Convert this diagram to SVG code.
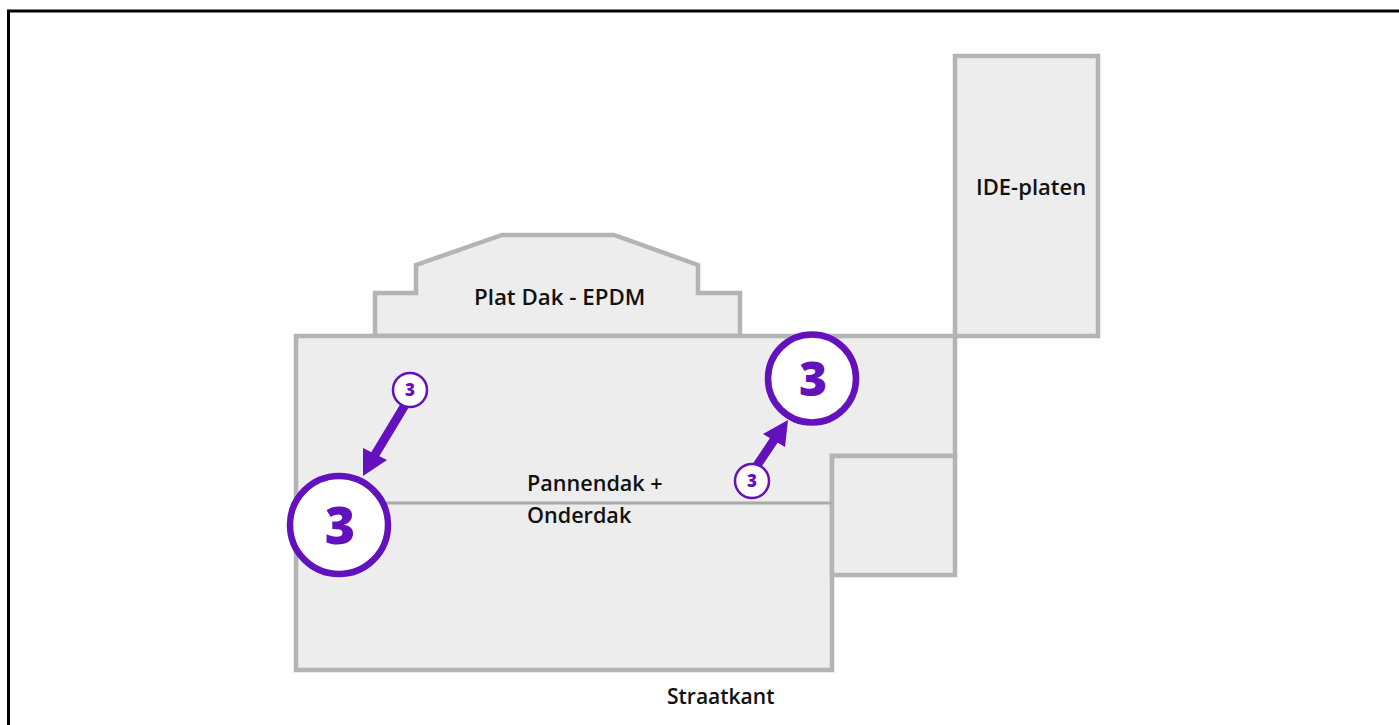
<svg xmlns="http://www.w3.org/2000/svg" width="1399" height="725" viewBox="0 0 1399 725">
<style>
.r{fill:#ededed;stroke:#b4b4b4;stroke-width:4.500;stroke-linejoin:miter}
.t{font-family:"Open Sans","Noto Sans",sans-serif;font-size:22px;font-weight:600;fill:#111}
.b{fill:#fff;stroke:#6310bd}
.n{font-family:"Open Sans","Noto Sans",sans-serif;font-weight:800;fill:#6310bd;text-anchor:middle}
.c{stroke:#6310bd;stroke-width:9;fill:none}
.h{fill:#6310bd}
</style>
<rect width="1399" height="725" fill="#fff"/>
<path d="M8.500 725V11H1399" fill="none" stroke="#000" stroke-width="3"/>
<g id="plat-dak"><path class="r" d="M375 336V293H416V265L502 235H614L698 265V293H740V336Z"/><text class="t" x="474" y="305" font-size="22.300" style="font-size:22.300px">Plat Dak - EPDM</text></g>
<g id="ide-platen"><rect class="r" x="955" y="56" width="143" height="280"/><text class="t" x="976" y="195">IDE-platen</text></g>
<g id="hoofddak"><path class="r" d="M296 336H955V456H832V670H296Z"/></g>
<g id="aanbouw"><rect class="r" x="832" y="456" width="123" height="119"/></g>
<path d="M296 503H832" stroke="#aaa" stroke-width="3" fill="none"/>
<g id="pannendak"><text class="t" x="527" y="491" style="font-size:21.600px">Pannendak +</text><text class="t" x="527" y="523" style="font-size:21.600px">Onderdak</text></g>
<g id="straatkant"><text class="t" x="667" y="704" style="font-size:21px">Straatkant</text></g>
<g id="connectors">
<path class="c" d="M405 405L373 458"/><path class="h" d="M363 476L363 448L387 460Z"/>
<path class="c" d="M756 467L778 434"/><path class="h" d="M788 420L785 447L763 434Z"/>
</g>
<g id="marker-groot-1"><circle class="b" cx="339" cy="525" r="49" stroke-width="6.500"/><text class="n" x="340" y="544" font-size="52">3</text></g>
<g id="marker-groot-2"><circle class="b" cx="812" cy="378.500" r="44" stroke-width="6.500"/><text class="n" x="813" y="396" font-size="48">3</text></g>
<g id="marker-klein-1"><circle class="b" cx="410" cy="390" r="17" stroke-width="2.500"/><text class="n" x="410" y="396" font-size="17">3</text></g>
<g id="marker-klein-2"><circle class="b" cx="752" cy="481" r="17" stroke-width="2.500"/><text class="n" x="752" y="487" font-size="17">3</text></g>
</svg>
